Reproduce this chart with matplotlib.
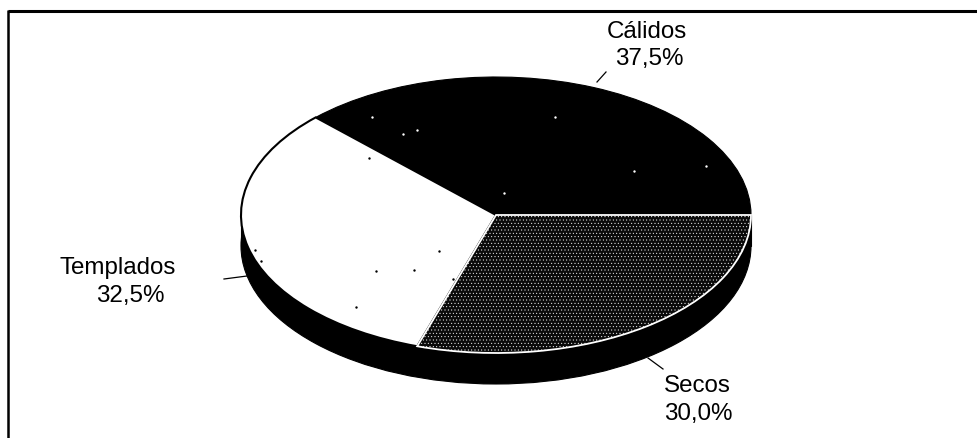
import matplotlib
matplotlib.use('Agg')
import matplotlib.pyplot as plt
from matplotlib.patches import Ellipse, Rectangle

plt.rcParams['font.family'] = ['Liberation Sans', 'DejaVu Sans']
plt.rcParams['hatch.linewidth'] = 0.3

# chart data
categories = ['Cálidos', 'Templados', 'Secos']
values = [37.5, 32.5, 30.0]

W, H = 978, 438
# pie geometry in pixels of the picture
cx, cy, rx, ry = 496, 215, 255, 138
depth = 31 / ry

fig = plt.figure(figsize=(W / 100, H / 100), dpi=100)
fig.patch.set_facecolor('white')

# the unit circle of pie() is stretched to an ellipse by the axis limits
ax = fig.add_axes([0, 0, 1, 1])
ax.add_patch(Ellipse((0, -depth), 2, 2, fc='black', ec='black', lw=0.8, zorder=0))
ax.add_patch(Rectangle((-1, -depth), 2, depth, fc='black', ec='black', lw=0.8, zorder=0))
wedges, _ = ax.pie(values, startangle=0, counterclock=True, radius=1)
wedges[0].set(facecolor='black', edgecolor='black', linewidth=0.8)
wedges[1].set(facecolor='white', edgecolor='black', linewidth=1.5)
wedges[2].set(facecolor='#0a0a0a', edgecolor='white', linewidth=1.3, hatch='.....')
ax.set_aspect('auto')
ax.set_xlim(-cx / rx, (W - cx) / rx)
ax.set_ylim((cy - H) / ry, cy / ry)
ax.axis('off')

# overlay in pixel coordinates for frame, labels and leader lines
ov = fig.add_axes([0, 0, 1, 1], facecolor='none')
ov.set_xlim(0, W)
ov.set_ylim(H, 0)
ov.axis('off')

ov.plot([8, W], [11, 11], color='black', lw=2.2, solid_capstyle='butt')
ov.plot([8, 8], [10, H], color='black', lw=1.8, solid_capstyle='butt')

# name position, value position (left edge, baseline)
name_pos = [(607, 38), (60, 274), (664, 392)]
value_pos = [(615, 65), (96, 302), (664, 420)]
leaders = [([606, 597], [72, 82]), ([224, 247], [279, 276]), ([648, 663], [358, 369])]

for name, val, np_, vp, ld in zip(categories, values, name_pos, value_pos, leaders):
    ov.text(np_[0], np_[1], name, fontsize=17.4, color='black', ha='left', va='baseline')
    ov.text(vp[0], vp[1], f'{val:.1f}%'.replace('.', ','), fontsize=17.4, color='black',
            ha='left', va='baseline')
    ov.plot(ld[0], ld[1], color='black', lw=0.9)

# scan dust
dust_dark_x = [255, 261, 439, 376, 414, 356, 453, 369]
dust_dark_y = [250, 261, 251, 271, 270, 307, 279, 158]
dust_light_x = [372, 403, 417, 504, 555, 634, 706]
dust_light_y = [117, 134, 130, 193, 117, 171, 166]
ov.scatter(dust_dark_x, dust_dark_y, s=3, color='black', linewidths=0)
ov.scatter(dust_light_x, dust_light_y, s=3, color='white', linewidths=0)

plt.savefig('out.png', dpi=100)
